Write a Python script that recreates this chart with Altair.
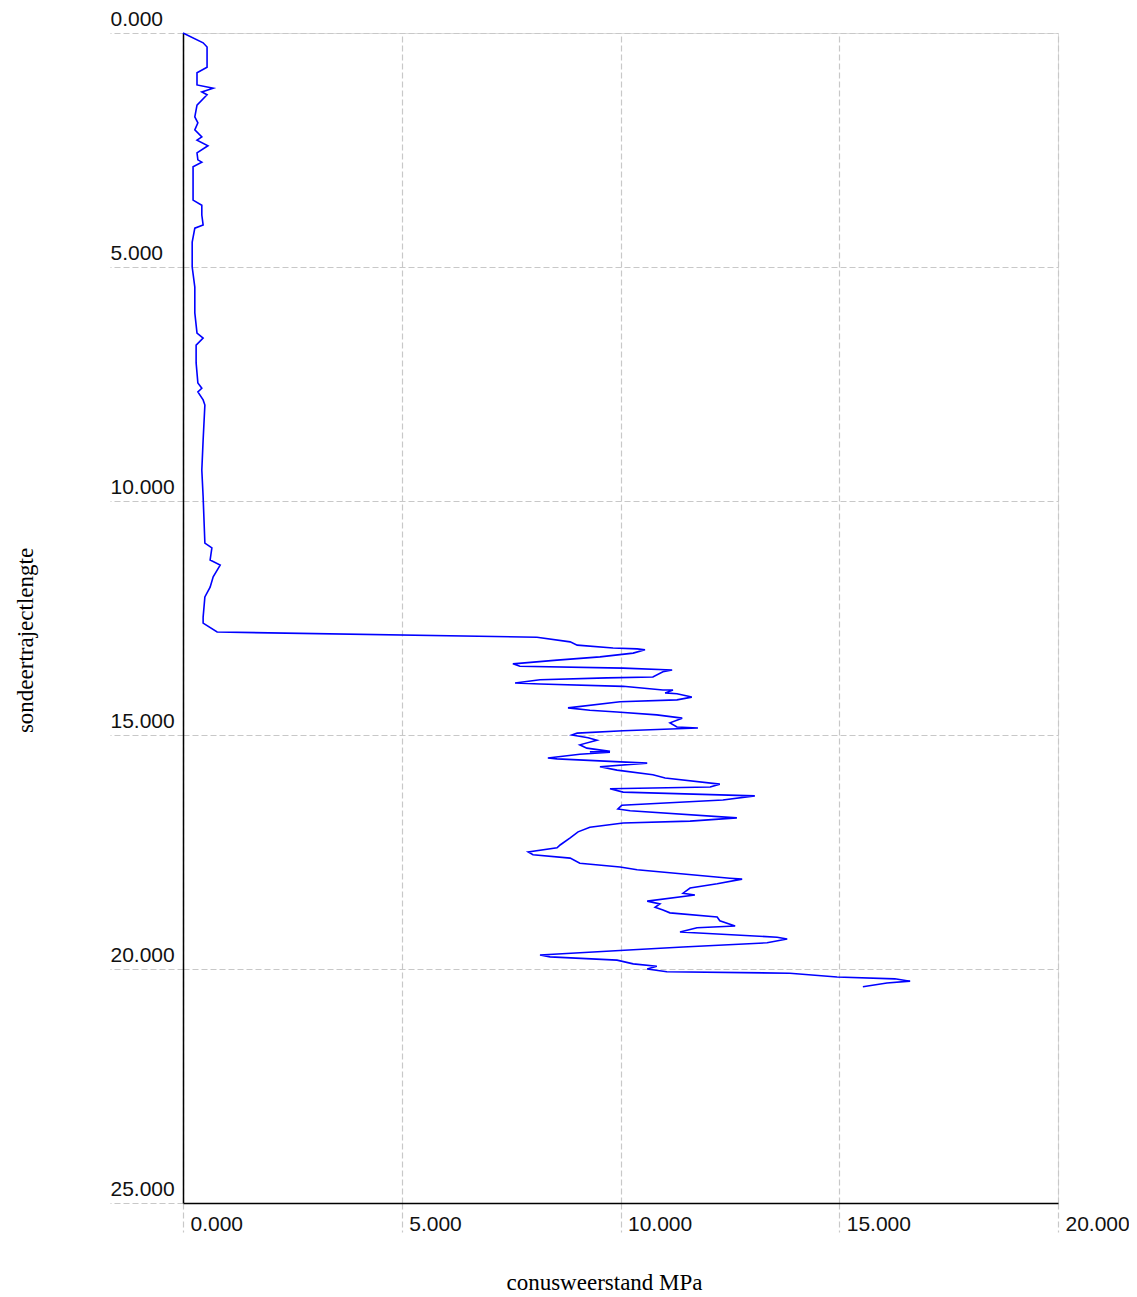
import altair as alt
import pandas as pd

# cone resistance (MPa) along the sounding path (m)
qc = [0.00, 0.46, 0.55, 0.55, 0.32, 0.32, 0.69, 0.43, 0.55, 0.32,
      0.27, 0.34, 0.27, 0.43, 0.32, 0.57, 0.32, 0.34, 0.43, 0.23,
      0.23, 0.43, 0.43, 0.46, 0.27, 0.21, 0.21, 0.27, 0.27, 0.32,
      0.46, 0.30, 0.30, 0.34, 0.43, 0.34, 0.46, 0.50, 0.46, 0.43,
      0.46, 0.50, 0.66, 0.62, 0.85, 0.69, 0.62, 0.50, 0.46, 0.46,
      0.78, 8.09, 8.85, 9.01, 9.83, 10.38, 10.56, 10.29, 9.53, 8.55,
      7.54, 7.70, 10.06, 11.18, 10.97, 10.74, 9.69, 8.16, 7.59, 8.16,
      10.06, 10.97, 11.20, 11.02, 11.29, 11.63, 11.29, 9.99, 8.80, 9.30,
      9.92, 10.83, 11.41, 11.13, 11.29, 11.77, 10.06, 9.01, 8.89, 9.26,
      9.46, 9.07, 9.23, 9.76, 9.30, 9.76, 9.07, 8.34, 8.55, 10.61,
      9.53, 9.92, 10.74, 11.02, 12.27, 12.05, 9.76, 10.06, 13.07, 12.34,
      10.03, 9.94, 10.22, 12.66, 11.59, 10.06, 9.30, 9.03, 8.85, 8.62,
      8.55, 7.89, 8.00, 8.85, 9.07, 9.99, 10.38, 12.50, 12.78, 12.21,
      11.59, 11.43, 11.70, 10.61, 10.90, 10.79, 10.97, 11.13, 12.21, 12.27,
      12.62, 11.75, 11.36, 13.58, 13.81, 13.35, 11.43, 10.29, 8.16, 8.39,
      9.92, 10.29, 10.83, 10.61, 11.06, 13.87, 14.95, 16.27, 16.62, 16.09,
      15.54]

depth = [0.00, 0.21, 0.30, 0.73, 0.85, 1.11, 1.18, 1.26, 1.32, 1.54,
         1.79, 1.92, 2.07, 2.22, 2.29, 2.41, 2.56, 2.71, 2.76, 2.86,
         3.57, 3.68, 3.89, 4.10, 4.17, 4.47, 5.00, 5.43, 5.98, 6.41,
         6.52, 6.67, 7.05, 7.48, 7.59, 7.67, 7.84, 7.95, 8.70, 9.34,
         9.91, 10.90, 11.00, 11.26, 11.37, 11.62, 11.84, 12.05, 12.48, 12.61,
         12.80, 12.91, 13.01, 13.08, 13.14, 13.16, 13.18, 13.25, 13.33, 13.40,
         13.48, 13.53, 13.57, 13.61, 13.65, 13.76, 13.78, 13.82, 13.89, 13.91,
         13.96, 14.04, 14.04, 14.10, 14.12, 14.19, 14.25, 14.29, 14.42, 14.47,
         14.51, 14.57, 14.64, 14.74, 14.83, 14.85, 14.91, 14.96, 15.00, 15.06,
         15.11, 15.21, 15.28, 15.35, 15.36, 15.37, 15.41, 15.49, 15.51, 15.60,
         15.68, 15.75, 15.85, 15.92, 16.05, 16.11, 16.15, 16.22, 16.30, 16.39,
         16.50, 16.58, 16.62, 16.77, 16.84, 16.88, 16.97, 17.07, 17.20, 17.35,
         17.41, 17.50, 17.56, 17.63, 17.74, 17.82, 17.88, 18.06, 18.08, 18.18,
         18.27, 18.38, 18.42, 18.55, 18.61, 18.68, 18.74, 18.80, 18.89, 18.97,
         19.08, 19.12, 19.21, 19.32, 19.36, 19.44, 19.53, 19.59, 19.70, 19.74,
         19.81, 19.89, 19.94, 20.00, 20.06, 20.09, 20.17, 20.21, 20.26, 20.30,
         20.38]

x_ticks = [0, 5, 10, 15, 20]
y_ticks = [0, 5, 10, 15, 20, 25]

df = pd.DataFrame({"i": list(range(len(qc))), "qc": qc, "depth": depth})

GRID = "#c8c8c8"
DASH = [6, 3]
LABEL_FONT = "Liberation Sans"
TITLE_FONT = "Liberation Serif"

x_axis = alt.Axis(
    values=x_ticks, format=".3f", title="conusweerstand MPa",
    grid=True, gridColor=GRID, gridDash=DASH, gridWidth=1.2,
    ticks=True, tickColor=GRID, tickDash=DASH, tickSize=29, tickWidth=1.2,
    domain=True, domainColor="#000000", domainWidth=1.5,
    labelFont=LABEL_FONT, labelFontSize=21, labelColor="#111111",
    labelAlign="left", labelBaseline="alphabetic", labelOffset=7,
    labelPadding=-2, labelFlush=False, labelOverlap=False,
    titleFont=TITLE_FONT, titleFontSize=23, titleFontWeight="normal",
    titleColor="#000000", titleX=421, titleY=79, titleBaseline="middle",
    titleAlign="center",
)

y_axis = alt.Axis(
    values=y_ticks, format=".3f", title="sondeertrajectlengte",
    grid=True, gridColor=GRID, gridDash=DASH, gridWidth=1.2,
    ticks=True, tickColor=GRID, tickDash=DASH, tickSize=73, tickWidth=1.2,
    domain=True, domainColor="#000000", domainWidth=1.5,
    labelFont=LABEL_FONT, labelFontSize=21, labelColor="#111111",
    labelAlign="left", labelBaseline="alphabetic", labelOffset=-8,
    labelPadding=0, labelFlush=False, labelOverlap=False,
    titleFont=TITLE_FONT, titleFontSize=23, titleFontWeight="normal",
    titleColor="#000000", titleX=-158, titleY=607, titleBaseline="middle",
    titleAlign="center", titleAngle=270,
)

chart = alt.Chart(df).mark_line(color="#0000ff", strokeWidth=1.6).encode(
    x=alt.X("qc:Q", scale=alt.Scale(domain=[0, 20], nice=False, zero=False), axis=x_axis),
    y=alt.Y("depth:Q", scale=alt.Scale(domain=[0, 25], nice=False, reverse=True), axis=y_axis),
    order="i:Q",
).properties(
    width=875, height=1170,
    autosize=alt.AutoSizeParams(type="none"),
    padding={"left": 175, "top": 25, "right": 71, "bottom": 92},
).configure_view(stroke=None).configure(background="white")

chart.save("out.html", embed_options={"renderer": "svg", "actions": False})
